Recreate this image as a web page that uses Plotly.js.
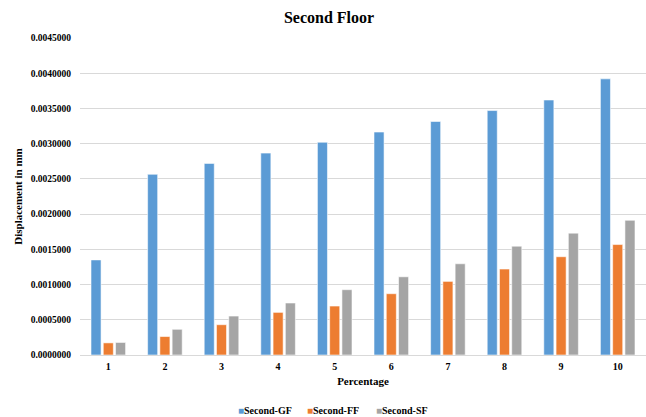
<!DOCTYPE html>
<html>
<head>
<meta charset="utf-8">
<script src="https://cdn.plot.ly/plotly-3.0.1.min.js"></script>
<style>html,body{margin:0;padding:0;background:#fff;}#chart{width:646px;height:417px;}</style>
</head>
<body>
<div id="chart"></div>
<script>
var categories = ['1','2','3','4','5','6','7','8','9','10'];
var seriesNames = ['Second-GF','Second-FF','Second-SF'];
var secondGF = [0.001350, 0.002565, 0.002720, 0.002866, 0.003020, 0.003165, 0.003315, 0.003470, 0.003620, 0.003920];
var secondFF = [0.000172, 0.000262, 0.000430, 0.000605, 0.000695, 0.000870, 0.001045, 0.001220, 0.001395, 0.001568];
var secondSF = [0.000178, 0.000365, 0.000553, 0.000738, 0.000927, 0.001110, 0.001295, 0.001545, 0.001730, 0.001912];
var yTicks = [0, 0.0005, 0.001, 0.0015, 0.002, 0.0025, 0.003, 0.0035, 0.004, 0.0045];
var yTickText = ['0.0000000','0.0005000','0.0010000','0.0015000','0.0020000','0.0025000','0.0030000','0.0035000','0.0040000','0.0045000'];
var colors = ['#5B9BD5','#ED7D31','#A5A5A5'];

var font = 'Liberation Serif';
var values = [secondGF, secondFF, secondSF];
var traces = [];
values.forEach(function(v, i){
  traces.push({
    type:'bar', x:categories, y:v, name:seriesNames[i], showlegend:false,
    marker:{color:colors[i], line:{color:'rgba(255,255,255,0.7)', width:0.8}},
    hoverinfo:'skip'
  });
});
values.forEach(function(v, i){
  traces.push({
    type:'scatter', mode:'none', x:[null], y:[null],
    name:'<span style="color:'+colors[i]+'">■</span><b>'+seriesNames[i]+'</b>',
    showlegend:true
  });
});
// spacer entry so the last legend label is not clipped
traces.push({type:'scatter', mode:'none', x:[null], y:[null], name:' ', showlegend:true});

var layout = {
  width:646, height:417,
  paper_bgcolor:'#fff', plot_bgcolor:'#fff',
  margin:{l:80, r:0, t:38, b:61.5, pad:0},
  barmode:'group', bargap:0.35, bargroupgap:0.18,
  font:{family:font, color:'#000'},
  title:{text:'<b>Second Floor</b>', font:{family:font, size:16, color:'#000'},
         x:329/646, xanchor:'center', xref:'container', y:1-17/417, yanchor:'middle', yref:'container'},
  xaxis:{type:'category', showgrid:false, zeroline:false, showline:true, linecolor:'#d9d9d9', linewidth:1,
         ticks:'', tickfont:{family:font, size:10, color:'#000', weight:'bold'}, ticklabelstandoff:2,
         title:{text:'<b>Percentage</b>', font:{family:font, size:11, color:'#000'}, standoff:6}},
  yaxis:{range:[0, 0.0045001], tickmode:'array', tickvals:yTicks, ticktext:yTickText,
         showgrid:true, gridcolor:'#d9d9d9', gridwidth:1, zeroline:false, showline:false,
         ticks:'', tickfont:{family:font, size:9.5, color:'#000', weight:'bold'}, ticklabelstandoff:8,
         title:{text:'<b>Displacement in mm</b>', font:{family:font, size:11, color:'#000'}, standoff:5}},
  legend:{orientation:'h', x:198/646, xanchor:'left', xref:'container', y:1-410/417, yanchor:'middle', yref:'container',
          font:{family:font, size:10, color:'#000'}, itemwidth:30, entrywidth:24, traceorder:'normal'},
  showlegend:true
};
Plotly.newPlot('chart', traces, layout, {displayModeBar:false, staticPlot:true});
</script>
</body>
</html>
